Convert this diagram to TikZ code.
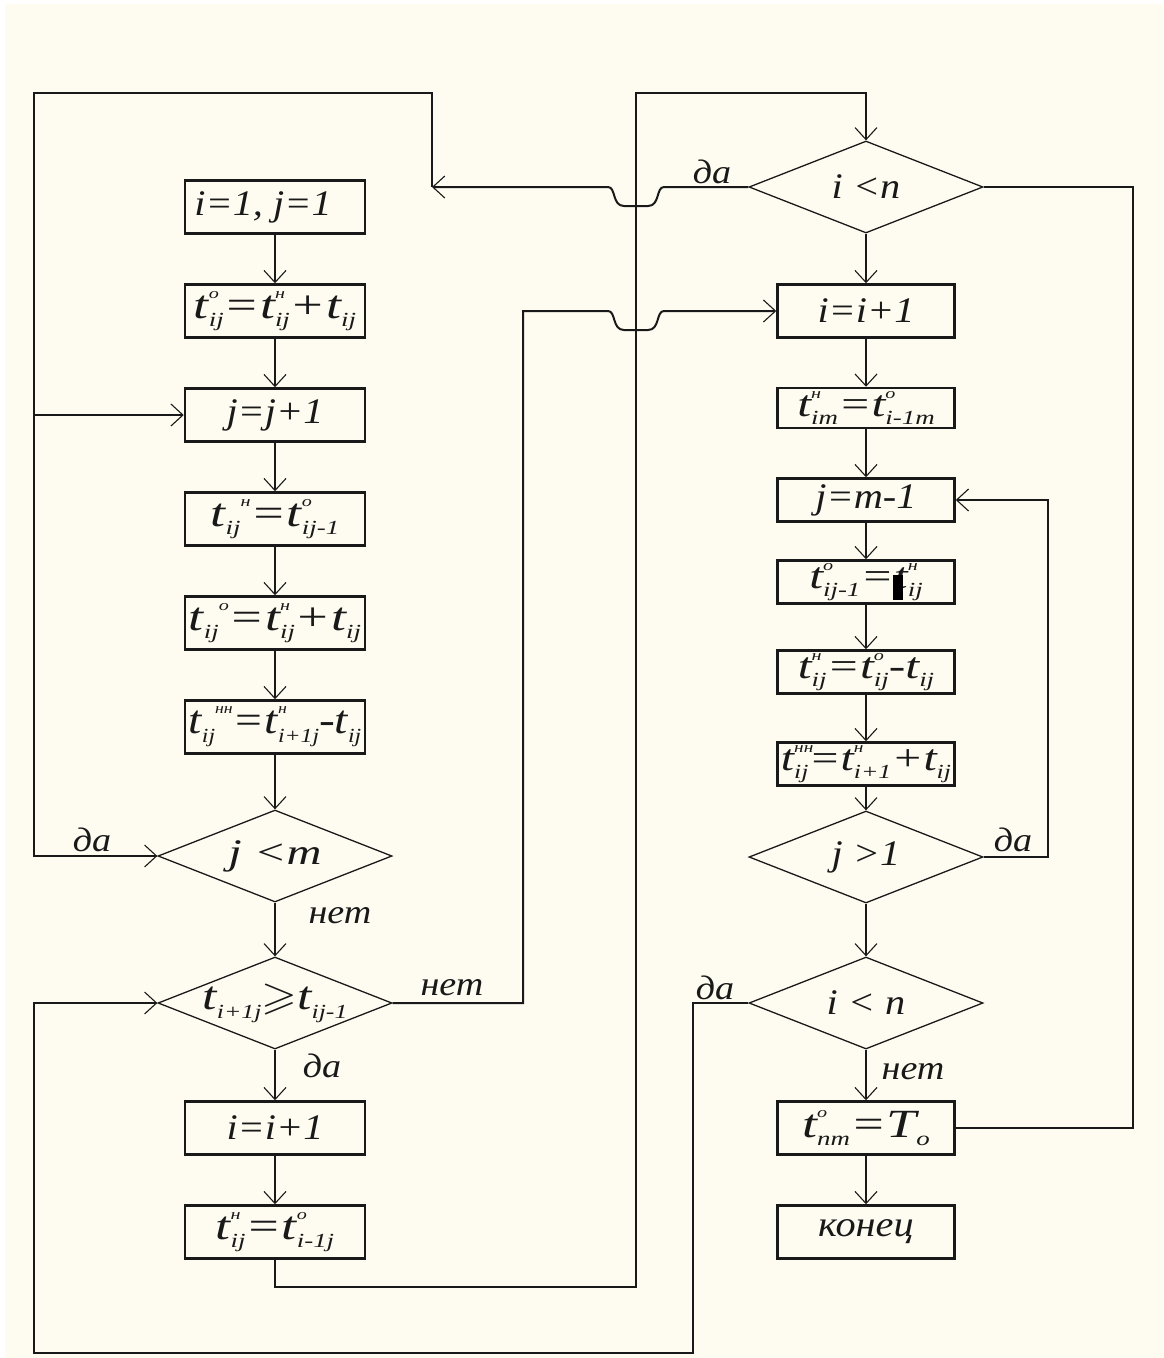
\documentclass[tikz,border=0pt]{standalone}
\usepackage{fontspec}
\usepackage{amssymb}
\usepackage{graphicx}
\setmainfont{Liberation Serif}[FakeStretch=1.12]
\usetikzlibrary{arrows.meta,shapes.geometric}
\definecolor{bg}{RGB}{254,252,240}
\definecolor{ink}{RGB}{25,25,25}
\newcommand\supsz{\fontsize{15}{15}\selectfont}
\newcommand\subsz{\fontsize{20}{20}\selectfont}
\newcommand\Ta[2]{t\makebox[0pt][l]{\raisebox{0.5em}{\supsz #1}}\raisebox{-0.22em}{\subsz #2}}
\newcommand\Tb[2]{t\raisebox{-0.22em}{\subsz #2}\raisebox{0.5em}{\supsz #1}}
\newcommand\Tn[1]{t\raisebox{-0.22em}{\subsz #1}}
\newcommand\Fx[2][1.2]{\makebox[0pt]{\scalebox{#1}[1]{#2}}}
\begin{document}
\begin{tikzpicture}[x=1pt,y=-1pt,
  font=\fontsize{36}{40}\selectfont\itshape,
  every node/.style={text=ink},
  box/.style={draw=ink, line width=2.5pt, minimum width=180pt, minimum height=53pt, inner sep=0pt},
  sbox/.style={draw=ink, line width=2.5pt, minimum width=177pt, minimum height=43pt, inner sep=0pt},
  fbig/.style={font=\fontsize{40}{44}\selectfont\itshape},
  fsml/.style={font=\fontsize{37}{40}\selectfont\itshape},
  dia/.style={draw=ink, line width=1.3pt, diamond, aspect=2.5, minimum width=234pt, minimum height=92pt, inner sep=0pt},
  conn/.style={draw=ink, line width=2pt},
  arr/.style={conn, -{Straight Barb[length=12pt,width=22pt,line width=1.1pt]}},
  lab/.style={font=\fontsize{34}{38}\selectfont\itshape, inner sep=0pt}]
\useasboundingbox (0,0) rectangle (1163,1358);
\fill[white] (0,0) rectangle (1163,1358);
\fill[bg] (5,4) rectangle (1163,1358);

% left column
\node[box] (b1) at (275,207) {\makebox[0pt]{\kern-24pt i=1, j=1}};
\node[box, fbig] (b2) at (275,311) {\Fx{\Ta{о}{ij}=\Ta{н}{ij}+\Tn{ij}}};
\node[box] (b3) at (275,415) {j=j+1};
\node[box, fbig] (b4) at (275,519) {\Fx{\Tb{н}{ij}=\Ta{о}{ij-1}}};
\node[box, fbig] (b5) at (275,623) {\Fx{\Tb{о}{ij}=\Ta{н}{ij}+\Tn{ij}}};
\node[box, fbig] (b6) at (275,727) {\Fx[1.06]{\Tb{нн}{ij}=\Ta{н}{i+1j}-\Tn{ij}}};
\node[dia] (d1) at (275,856) {\Fx{j <m}};
\node[dia, fbig] (d2) at (275,1003) {\Fx[1.15]{\Tn{i+1j}$\geqslant$\Tn{ij-1}}};
\node[box] (b7) at (275,1128) {i=i+1};
\node[box, fbig] (b8) at (275,1232) {\Fx{\Ta{н}{ij}=\Ta{о}{i-1j}}};

% right column
\node[dia] (d3) at (866,187) {i <n};
\node[box, minimum width=177pt] (b9) at (866,311) {i=i+1};
\node[sbox, fsml, minimum height=40pt] (b10) at (866,408) {\Fx{\Ta{н}{im}=\Ta{о}{i-1m}}};
\node[sbox] (b11) at (866,500) {j=m-1};
\node[sbox, fsml] (b12) at (866,582) {\Fx{\Ta{о}{ij-1}=\Ta{н}{ij}}};
\node[sbox, fsml] (b13) at (866,672) {\Fx{\Ta{н}{ij}=\Ta{о}{ij}-\Tn{ij}}};
\node[sbox, fsml] (b14) at (866,764) {\Fx[1.15]{\Ta{нн}{ij}=\Ta{н}{i+1}+\Tn{ij}}};
\node[dia] (d4) at (866,857) {j >1};
\node[dia] (d5) at (866,1003) {i < n};
\node[box, fbig, minimum width=177pt] (b15) at (866,1128) {\Fx{\Ta{о}{nm}=T\raisebox{-0.2em}{\subsz о}}};
\node[box, minimum width=177pt] (b16) at (866,1232) {конец};
\fill[black] (893,575) rectangle (903,600);

% coordinates
\coordinate (L1) at (34,93);
\coordinate (L2) at (432,93);
\coordinate (J1) at (432,187);
\coordinate (L3) at (34,415);
\coordinate (M1) at (636,93);
\coordinate (M2) at (636,1287);
\coordinate (N1) at (523,1003);
\coordinate (N2) at (523,311);
\coordinate (R1) at (1133,187);
\coordinate (R2) at (1133,1128);
\coordinate (Q1) at (1048,857);
\coordinate (Q2) at (1048,500);
\coordinate (P1) at (693,1003);
\coordinate (P2) at (693,1353);
\coordinate (P3) at (34,1353);

% vertical flow
\draw[arr] (b1) -- (b2);
\draw[arr] (b2) -- (b3);
\draw[arr] (b3) -- (b4);
\draw[arr] (b4) -- (b5);
\draw[arr] (b5) -- (b6);
\draw[arr] (b6) -- (d1);
\draw[arr] (d1) -- (d2);
\draw[arr] (d2) -- (b7);
\draw[arr] (b7) -- (b8);
\draw[arr] (d3) -- (b9);
\draw[arr] (b9) -- (b10);
\draw[arr] (b10) -- (b11);
\draw[arr] (b11) -- (b12);
\draw[arr] (b12) -- (b13);
\draw[arr] (b13) -- (b14);
\draw[arr] (b14) -- (d4);
\draw[arr] (d4) -- (d5);
\draw[arr] (d5) -- (b15);
\draw[arr] (b15) -- (b16);

% loops
\draw[arr] (d3.west) -- (664,187) .. controls (656,187) and (660,206) .. (648,206) -- (624,206) .. controls (612,206) and (616,187) .. (608,187) -- (J1);
\draw[arr] (J1) -- (L2) -- (L1) |- (d1.west);
\draw[arr] (L3) -- (b3.west);
\draw[arr] (d2.east) -- (N1) -- (N2) -- (608,311) .. controls (616,311) and (612,330) .. (624,330) -- (648,330) .. controls (660,330) and (656,311) .. (664,311) -- (b9.west);
\draw[arr] (b8.south) |- (M2) -- (M1) -| (d3.north);
\draw[conn] (d3.east) -- (R1) -- (R2) -- (b15.east);
\draw[arr] (d4.east) -- (Q1) -- (Q2) -- (b11.east);
\draw[arr] (d5.west) -- (P1) -- (P2) -- (P3) |- (d2.west);

% labels
\node[lab] (l1) at (712,172) {да};
\node[lab] (l2) at (92,840) {да};
\node[lab] (l3) at (340,916) {нет};
\node[lab] (l4) at (452,988) {нет};
\node[lab] (l5) at (322,1066) {да};
\node[lab] (l6) at (1013,840) {да};
\node[lab] (l7) at (715,988) {да};
\node[lab] (l8) at (913,1072) {нет};
\end{tikzpicture}
\end{document}
